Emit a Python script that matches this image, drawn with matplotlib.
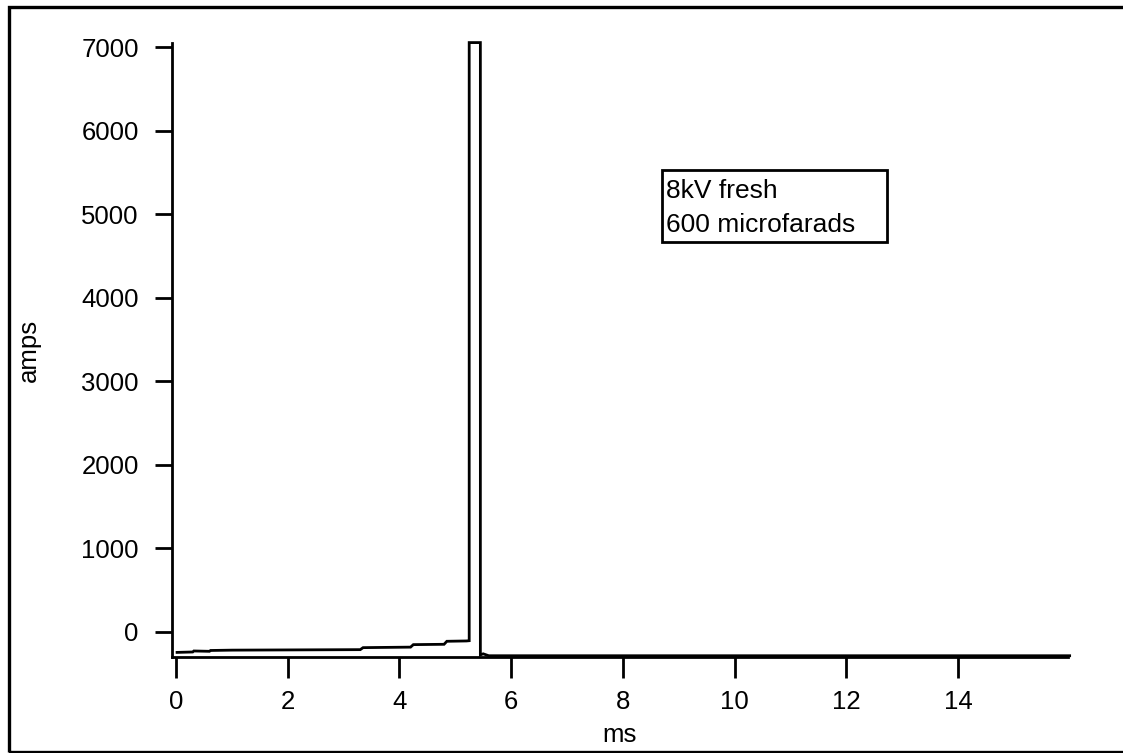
import numpy as np
import matplotlib
matplotlib.use("Agg")
import matplotlib.pyplot as plt
from matplotlib.patches import Rectangle

# current trace (ms, amps)
t_ms = [0.02, 0.3, 0.32, 0.6, 0.62, 1.0, 3.3, 3.35, 4.2, 4.25, 4.8, 4.85,
        5.2, 5.25, 5.25, 5.45, 5.45, 5.5, 5.6, 16.0]
amps = [-245, -240, -228, -232, -222, -218, -212, -188, -182, -152, -148, -112,
        -108, -105, 7055, 7055, -275, -262, -285, -285]

xticks = [0, 2, 4, 6, 8, 10, 12, 14]
yticks = [0, 1000, 2000, 3000, 4000, 5000, 6000, 7000]
note_lines = ["8kV fresh", "600 microfarads"]

plt.rcParams['font.family'] = ['Liberation Sans', 'DejaVu Sans']

fig = plt.figure(figsize=(11.23, 7.53), dpi=100)
ax = fig.add_axes([0.1532, 0.1275, 0.951 - 0.1532, 0.9429 - 0.1275])

ax.plot(t_ms, amps, color="black", lw=2.0, clip_on=False, solid_joinstyle="miter")

ax.set_xlim(-0.07, 15.97)
ax.set_ylim(-300, 7050)
ax.set_xticks(xticks)
ax.set_yticks(yticks)
ax.tick_params(axis="x", direction="out", length=15, width=2.0, pad=9, labelsize=18.5)
ax.tick_params(axis="y", direction="out", length=12, width=2.0, pad=12, labelsize=18.5)
for s in ["top", "right"]:
    ax.spines[s].set_visible(False)
for s in ["left", "bottom"]:
    ax.spines[s].set_linewidth(2.0)

ax.set_xlabel("ms", fontsize=18.5)
ax.xaxis.set_label_coords(0.5, -0.108)
ax.set_ylabel("amps", fontsize=18.5)
ax.yaxis.set_label_coords(-0.146, 0.5)

# note box
ax.add_patch(Rectangle((0.547, 0.676), 0.251, 0.117, transform=ax.transAxes,
                       fill=False, ec="black", lw=2.0, clip_on=False))
ax.text(0.551, 0.7476, note_lines[0], transform=ax.transAxes, fontsize=19,
        va="baseline", ha="left")
ax.text(0.551, 0.692, note_lines[1], transform=ax.transAxes, fontsize=19,
        va="baseline", ha="left")

# outer frame around the whole plot
fig.patches.append(Rectangle((0.008, 0.0013), 1.05, 0.9894, transform=fig.transFigure,
                             fill=False, ec="black", lw=2.4, clip_on=False))

fig.savefig("out.png", dpi=100)
